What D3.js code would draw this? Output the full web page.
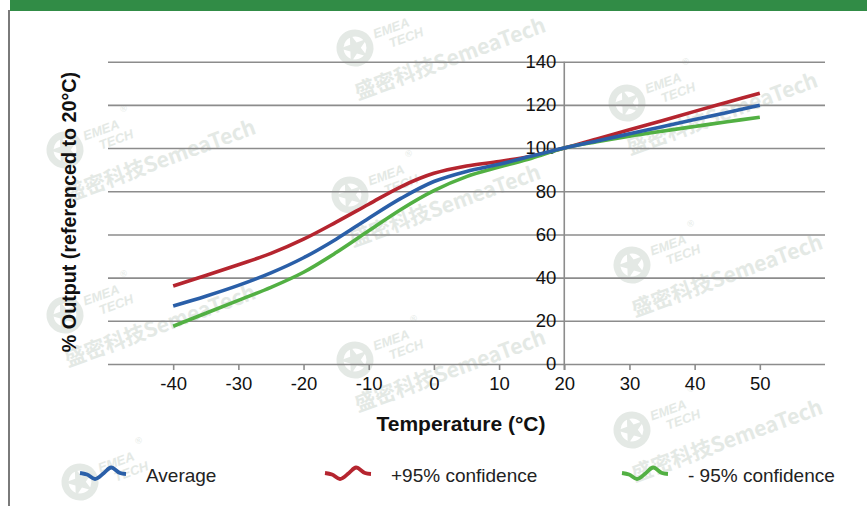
<!DOCTYPE html>
<html>
<head>
<meta charset="utf-8">
<script src="https://cdn.jsdelivr.net/npm/d3@7"></script>
<style>
  html, body { margin: 0; padding: 0; background: #fff; }
  svg { display: block; font-family: "Liberation Sans", Arial, sans-serif; }
</style>
</head>
<body>
<script>
// Chart data.
const temps = [-40, -35, -30, -25, -20, -15, -10, -5, 0, 5, 10, 15, 20, 25, 30, 35, 40, 45, 50];
const average = [26.9, 31.4, 36.4, 42.2, 49.2, 57.8, 67.5, 76.8, 84.5, 89.2, 92.5, 96.3, 100, 103.3, 106.6, 109.9, 113.2, 116.5, 119.8];
const upper95 = [36.1, 41, 46, 51.2, 57.8, 65.7, 74, 82.2, 88.3, 91.7, 93.8, 96.2, 100, 104.2, 108.5, 112.7, 117, 121.2, 125.4];
const lower95 = [17.5, 23.5, 29.5, 35.5, 42.5, 51.6, 61.7, 71.7, 80.3, 86.8, 91.2, 95.3, 100, 102.9, 105.5, 107.8, 110, 112.2, 114.3];
const xTicks = [-40, -30, -20, -10, 0, 10, 20, 30, 40, 50];
const yTicks = [0, 20, 40, 60, 80, 100, 120, 140];
const seriesNames = ["Average", "+95% confidence", "- 95% confidence"];
const seriesColors = ["#2a5fa8", "#b5252f", "#52b043"];

// watermark stamps (logo centres); the last one sits at the page foot, logo only
const watermarks = [[65, 150], [65, 315], [355, 48], [350, 195], [355, 360], [627, 103], [632, 265], [632, 430]];
const footStamp = [80, 482];

const width = 867;
const height = 506;

const svg = d3.select("body")
  .append("svg")
  .attr("width", width)
  .attr("height", height)
  .attr("viewBox", [0, 0, width, height]);

// faint watermarks behind everything
const wmColor = "#e4e9e5";
function stamp(wx, wy, withName) {
  const g = svg.append("g").attr("transform", `translate(${wx},${wy}) rotate(-20)`);
  g.append("circle").attr("r", 15).attr("fill", "none").attr("stroke", wmColor).attr("stroke-width", 7);
  g.append("path").attr("d", d3.symbol(d3.symbolStar, 260)()).attr("fill", wmColor);
  g.append("text").attr("x", 22).attr("y", -2).attr("font-size", 13).attr("font-style", "italic")
    .attr("font-weight", "bold").attr("fill", wmColor).text("EMEA");
  g.append("text").attr("x", 34).attr("y", 12).attr("font-size", 13).attr("font-style", "italic")
    .attr("font-weight", "bold").attr("fill", wmColor).text("TECH");
  g.append("text").attr("x", 66).attr("y", -16).attr("font-size", 9).attr("fill", wmColor).text("®");
  if (withName) {
    g.append("text").attr("x", -15).attr("y", 50).attr("font-size", 21).attr("font-weight", "bold")
      .attr("fill", wmColor).attr("font-family", "Noto Sans CJK SC, sans-serif").text("盛密科技SemeaTech");
  }
}
watermarks.forEach(([wx, wy]) => stamp(wx, wy, true));
stamp(footStamp[0], footStamp[1], false);

// page frame: green strip on top, grey rule on the left
svg.append("rect").attr("x", 10).attr("y", 0).attr("width", width - 10).attr("height", 11).attr("fill", "#318c46");
svg.append("line").attr("x1", 9).attr("x2", 9).attr("y1", 10).attr("y2", height)
  .attr("stroke", "#7a7a7a").attr("stroke-width", 2);

// scales
const x = d3.scaleLinear([-50, 60], [108, 825]);
const y = d3.scaleLinear([0, 140], [364, 61.7]);

const gridColor = "#8c8c8c";

// horizontal grid lines + y labels at the 20 °C axis
const yAxis = svg.append("g")
  .attr("transform", `translate(${x(20)},0)`)
  .call(d3.axisLeft(y).tickValues(yTicks).tickSize(0).tickPadding(8))
  .call(g => g.select(".domain").remove());
yAxis.selectAll(".tick line").clone()
  .attr("x1", x(-50) - x(20))
  .attr("x2", x(60) - x(20))
  .attr("stroke", gridColor)
  .attr("stroke-width", 1.6);
yAxis.selectAll(".tick text")
  .attr("font-size", 18.5)
  .attr("fill", "#111")
  .attr("font-family", "Liberation Sans, Arial, sans-serif");

// vertical axis line through 20 °C
svg.append("line")
  .attr("x1", x(20)).attr("x2", x(20))
  .attr("y1", y(140)).attr("y2", y(0) + 6)
  .attr("stroke", gridColor).attr("stroke-width", 1.6);

// x axis
const xAxis = svg.append("g")
  .attr("transform", `translate(0,${y(0)})`)
  .call(d3.axisBottom(x).tickValues(xTicks).tickSize(6).tickPadding(7))
  .call(g => g.select(".domain").remove());
xAxis.selectAll(".tick line").attr("stroke", gridColor).attr("stroke-width", 1.6);
xAxis.selectAll(".tick text")
  .attr("font-size", 18.5)
  .attr("fill", "#111")
  .attr("font-family", "Liberation Sans, Arial, sans-serif")
  .text(d => d < 0 ? "-" + Math.abs(d) : d);

// axis titles
svg.append("text")
  .attr("x", 461).attr("y", 431)
  .attr("text-anchor", "middle")
  .attr("font-size", 21)
  .attr("font-weight", "bold")
  .attr("fill", "#111")
  .text("Temperature (°C)");

svg.append("text")
  .attr("transform", "translate(76,212) rotate(-90)")
  .attr("text-anchor", "middle")
  .attr("font-size", 19.7)
  .attr("font-weight", "bold")
  .attr("fill", "#111")
  .text("% Output (referenced to 20°C)");

// curves
const line = d3.line()
  .x((d, i) => x(temps[i]))
  .y(d => y(d))
  .curve(d3.curveCatmullRom.alpha(0.5));

[[upper95, 1], [lower95, 2], [average, 0]].forEach(([vals, idx]) => {
  svg.append("path")
    .attr("fill", "none")
    .attr("stroke", seriesColors[idx])
    .attr("stroke-width", 3.6)
    .attr("d", line(vals));
});

// legend
const legendX = [80, 325, 622];
const squiggle = d3.line().curve(d3.curveCatmullRom);
const wave = [[0, 0], [7, 1.5], [15, 6], [24, 0], [31, -5.5], [40, 0], [46, 1]];
seriesNames.forEach((name, i) => {
  const g = svg.append("g").attr("transform", `translate(${legendX[i]},473)`);
  g.append("path")
    .attr("d", squiggle(wave))
    .attr("fill", "none")
    .attr("stroke", seriesColors[i])
    .attr("stroke-width", 3.8);
  g.append("text")
    .attr("x", 66)
    .attr("y", 9)
    .attr("font-size", 19)
    .attr("fill", "#222")
    .text(name);
});
</script>
</body>
</html>
